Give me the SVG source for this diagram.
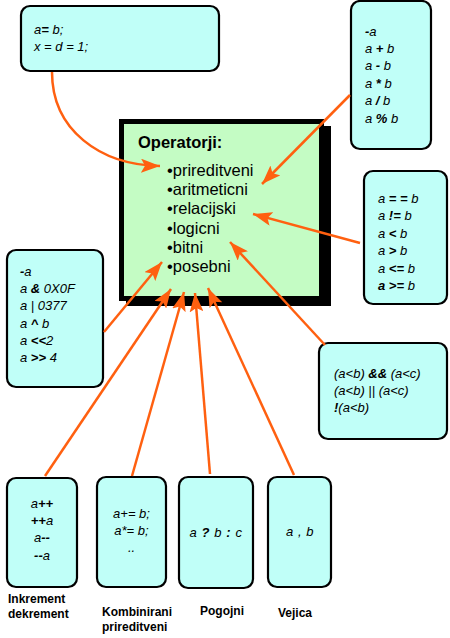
<svg xmlns="http://www.w3.org/2000/svg" width="450" height="638" viewBox="0 0 450 638">
<style>
.box{fill:#C0FFF8;stroke:#000;stroke-width:2.2}
.code{font-family:"Liberation Sans",Arial,sans-serif;font-size:13px;font-style:italic;fill:#000}
.b{font-weight:bold}
.lbl{font-family:"Liberation Sans",Arial,sans-serif;font-size:12px;font-weight:bold;fill:#000}
.main{font-family:"Liberation Sans",Arial,sans-serif;font-size:16.5px;fill:#000}
.conn{fill:none;stroke:#FF6010;stroke-width:2.5}
</style>
<defs>
<marker id="ah" markerUnits="userSpaceOnUse" markerWidth="20" markerHeight="14" refX="19" refY="7" orient="auto">
<path d="M0,0 L19,7 L0,14 L4,7 z" fill="#FF6010"/>
</marker>
</defs>
<g id="main">
<rect x="126" y="126" width="205" height="180" fill="#000"/>
<rect x="121.5" y="121.5" width="200" height="177" fill="#C4FCC4" stroke="#000" stroke-width="5"/>
<text class="main" x="138" y="148" font-weight="bold">Operatorji:</text>
<text class="main" x="167" y="176">•prireditveni</text>
<text class="main" x="167" y="195">•aritmeticni</text>
<text class="main" x="167" y="214">•relacijski</text>
<text class="main" x="167" y="234">•logicni</text>
<text class="main" x="167" y="253">•bitni</text>
<text class="main" x="167" y="272">•posebni</text>
</g>
<g id="assign">
<rect class="box" x="21" y="6" width="198" height="65" rx="9"/>
<text class="code" x="34" y="34">a<tspan class="b">=</tspan> b;</text>
<text class="code" x="34" y="51">x = d = 1;</text>
</g>
<g id="arith">
<rect class="box" x="351" y="1" width="80" height="148" rx="9"/>
<text class="code" x="365" y="36"><tspan class="b">-</tspan>a</text>
<text class="code" x="365" y="53">a <tspan class="b">+</tspan> b</text>
<text class="code" x="365" y="70">a <tspan class="b">-</tspan> b</text>
<text class="code" x="365" y="88">a <tspan class="b">*</tspan> b</text>
<text class="code" x="365" y="105">a <tspan class="b">/</tspan> b</text>
<text class="code" x="365" y="123">a <tspan class="b">%</tspan> b</text>
</g>
<g id="relational">
<rect class="box" x="364" y="171" width="83" height="133" rx="9"/>
<text class="code" x="378" y="203">a <tspan class="b">= =</tspan> b</text>
<text class="code" x="378" y="220">a <tspan class="b">!=</tspan> b</text>
<text class="code" x="378" y="238">a <tspan class="b">&lt;</tspan> b</text>
<text class="code" x="378" y="255">a <tspan class="b">&gt;</tspan> b</text>
<text class="code" x="378" y="273">a <tspan class="b">&lt;=</tspan> b</text>
<text class="code" x="378" y="290"><tspan class="b">a</tspan> <tspan class="b">&gt;=</tspan> b</text>
</g>
<g id="bitwise">
<rect class="box" x="7" y="250" width="96" height="137" rx="9"/>
<text class="code" x="20" y="276"><tspan class="b">-</tspan>a</text>
<text class="code" x="20" y="293">a <tspan class="b">&amp;</tspan> 0X0F</text>
<text class="code" x="20" y="310">a | 0377</text>
<text class="code" x="20" y="328">a <tspan class="b">^</tspan> b</text>
<text class="code" x="20" y="345">a <tspan class="b">&lt;&lt;</tspan>2</text>
<text class="code" x="20" y="362">a <tspan class="b">&gt;&gt;</tspan> 4</text>
</g>
<g id="logical">
<rect class="box" x="319" y="343" width="128" height="96" rx="9"/>
<text class="code" x="334" y="378">(a&lt;b) <tspan class="b">&amp;&amp;</tspan> (a&lt;c)</text>
<text class="code" x="334" y="395">(a&lt;b) || (a&lt;c)</text>
<text class="code" x="334" y="412"><tspan class="b">!</tspan>(a&lt;b)</text>
</g>
<g id="incdec">
<rect class="box" x="7" y="478" width="70" height="109" rx="9"/>
<text class="code" x="42" y="508" text-anchor="middle">a<tspan class="b">++</tspan></text>
<text class="code" x="42" y="525" text-anchor="middle"><tspan class="b">++</tspan>a</text>
<text class="code" x="42" y="542" text-anchor="middle">a<tspan class="b">--</tspan></text>
<text class="code" x="42" y="560" text-anchor="middle"><tspan class="b">--</tspan>a</text>
<text class="lbl" x="8" y="603">Inkrement</text>
<text class="lbl" x="8" y="618">dekrement</text>
</g>
<g id="compound">
<rect class="box" x="97" y="477" width="69" height="110" rx="9"/>
<text class="code" x="131.5" y="518" text-anchor="middle">a+= b;</text>
<text class="code" x="131.5" y="535" text-anchor="middle">a*= b;</text>
<text class="code" x="131.5" y="552" text-anchor="middle">..</text>
<text class="lbl" x="102" y="616">Kombinirani</text>
<text class="lbl" x="102" y="631">prireditveni</text>
</g>
<g id="ternary">
<rect class="box" x="179" y="477" width="74" height="111" rx="9"/>
<text class="code" x="216" y="537" text-anchor="middle" letter-spacing="0.6">a <tspan class="b">?</tspan> b <tspan class="b">:</tspan> c</text>
<text class="lbl" x="222" y="615" text-anchor="middle">Pogojni</text>
</g>
<g id="comma">
<rect class="box" x="268" y="477" width="63" height="110" rx="9"/>
<text class="code" x="300" y="536" text-anchor="middle" letter-spacing="0.5">a , b</text>
<text class="lbl" x="295" y="617" text-anchor="middle">Vejica</text>
</g>
<g id="connectors">
<path class="conn" d="M52,72 C52,130 100,165 160,166" marker-end="url(#ah)"/>
<path class="conn" d="M350,95 L262,184" marker-end="url(#ah)"/>
<path class="conn" d="M360,243 L253,214" marker-end="url(#ah)"/>
<path class="conn" d="M325,345 L230,242" marker-end="url(#ah)"/>
<path class="conn" d="M104,332 L162,262" marker-end="url(#ah)"/>
<path class="conn" d="M45,476 L171,289" marker-end="url(#ah)"/>
<path class="conn" d="M132,476 L184,292" marker-end="url(#ah)"/>
<path class="conn" d="M210,474 L195,293" marker-end="url(#ah)"/>
<path class="conn" d="M294,475 L208,288" marker-end="url(#ah)"/>
</g>
</svg>
